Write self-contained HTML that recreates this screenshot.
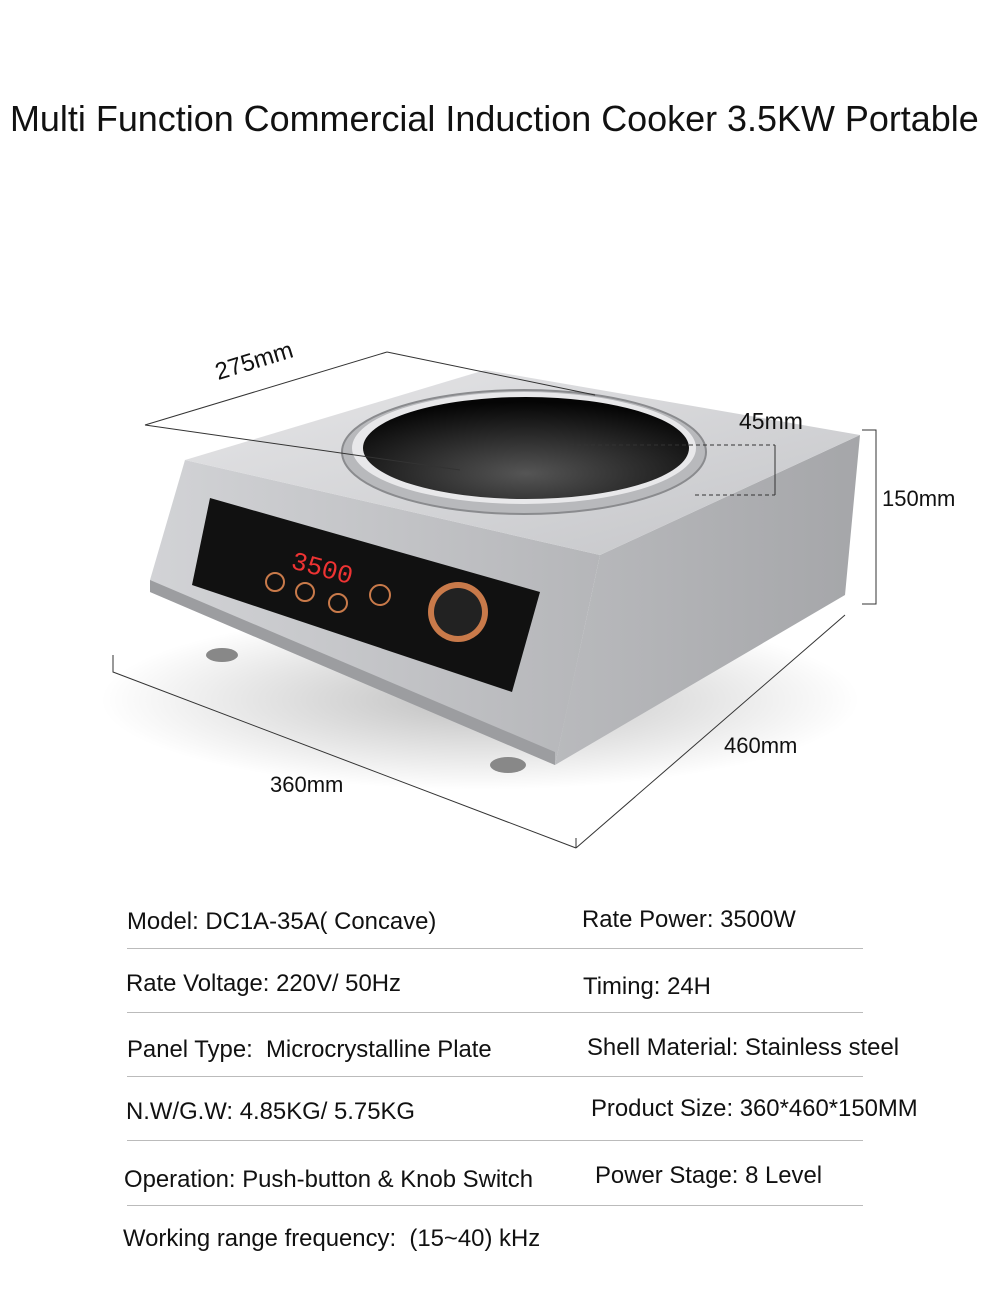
<!DOCTYPE html>
<html><head><meta charset="utf-8"><style>
html,body{margin:0;padding:0;background:#fff;}
body{width:992px;height:1293px;position:relative;overflow:hidden;font-family:"Liberation Sans",sans-serif;color:#111;}
.t{position:absolute;white-space:nowrap;font-size:23.9px;}
.ln{position:absolute;left:127px;width:736px;height:1px;background:#bbb;}
</style></head><body>
<div class="t" style="left:10px;top:98px;font-size:35.95px;">Multi Function Commercial Induction Cooker 3.5KW Portable</div>
<svg width="992" height="1293" style="position:absolute;left:0;top:0" xmlns="http://www.w3.org/2000/svg">
<defs>
<linearGradient id="top" x1="0" y1="0" x2="1" y2="1"><stop offset="0" stop-color="#e6e6e8"/><stop offset="1" stop-color="#c4c5c8"/></linearGradient>
<linearGradient id="front" x1="0" y1="0" x2="1" y2="0"><stop offset="0" stop-color="#d2d3d6"/><stop offset="1" stop-color="#b5b6b9"/></linearGradient>
<linearGradient id="side" x1="0" y1="0" x2="1" y2="0"><stop offset="0" stop-color="#b9babd"/><stop offset="1" stop-color="#a5a6a9"/></linearGradient>
<radialGradient id="sh" cx="0.5" cy="0.5" r="0.5"><stop offset="0" stop-color="#000" stop-opacity="0.25"/><stop offset="1" stop-color="#000" stop-opacity="0"/></radialGradient>
<radialGradient id="wok" cx="0.5" cy="0.75" r="0.7"><stop offset="0" stop-color="#555"/><stop offset="1" stop-color="#050505"/></radialGradient>
</defs>
<ellipse cx="480" cy="700" rx="380" ry="90" fill="url(#sh)"/>
<ellipse cx="222" cy="655" rx="16" ry="7" fill="#888"/>
<ellipse cx="508" cy="765" rx="18" ry="8" fill="#888"/>
<ellipse cx="800" cy="605" rx="14" ry="6" fill="#888"/>
<polygon points="600,555 860,435 845,595 555,765" fill="url(#side)"/>
<polygon points="185,460 600,555 555,765 150,592 150,580" fill="url(#front)"/>
<polygon points="185,460 485,370 860,435 600,555" fill="url(#top)"/>
<polygon points="150,580 555,752 555,765 150,592" fill="#9c9da0"/>
<polygon points="210,498 540,592 512,692 192,585" fill="#111"/>
<text x="290" y="568" fill="#e33" font-size="26" font-family="Liberation Mono" transform="rotate(15 290 568)">3500</text>
<circle cx="458" cy="612" r="30" fill="#c97a4a"/>
<circle cx="458" cy="612" r="24" fill="#222"/>
<circle cx="380" cy="595" r="10" fill="none" stroke="#c97a4a" stroke-width="2"/>
<circle cx="275" cy="582" r="9" fill="none" stroke="#c97a4a" stroke-width="2"/>
<circle cx="305" cy="592" r="9" fill="none" stroke="#c97a4a" stroke-width="2"/>
<circle cx="338" cy="603" r="9" fill="none" stroke="#c97a4a" stroke-width="2"/>
<ellipse cx="524" cy="452" rx="182" ry="62" fill="#b8b9bc" stroke="#8a8b8e" stroke-width="2"/>
<ellipse cx="524" cy="448" rx="172" ry="56" fill="#e8e8ea"/>
<ellipse cx="526" cy="448" rx="163" ry="51" fill="url(#wok)"/>
<g stroke="#333" stroke-width="1" fill="none">
<line x1="145" y1="425" x2="387" y2="352"/>
<line x1="387" y1="352" x2="595" y2="395"/>
<line x1="145" y1="425" x2="460" y2="470"/>
<polyline points="113,655 113,672 576,848"/>
<line x1="576" y1="848" x2="576" y2="838"/>
<line x1="576" y1="848" x2="845" y2="615"/>
<polyline points="862,430 876,430 876,604 862,604"/>
<line x1="570" y1="445" x2="775" y2="445" stroke-dasharray="4,3"/>
<line x1="695" y1="495" x2="775" y2="495" stroke-dasharray="4,3"/>
<line x1="775" y1="445" x2="775" y2="495"/>
</g>
</svg>
<div class="t" style="left:212px;top:360px;font-size:24px;transform:rotate(-17deg);transform-origin:left top;">275mm</div>
<div class="t" style="left:739px;top:408px;font-size:23px;">45mm</div>
<div class="t" style="left:882px;top:486px;font-size:22px;">150mm</div>
<div class="t" style="left:724px;top:733px;font-size:22px;">460mm</div>
<div class="t" style="left:270px;top:772px;font-size:22px;">360mm</div>

<div class="t" style="left:127px;top:908px;">Model: DC1A-35A( Concave)</div>
<div class="t" style="left:582px;top:906px;">Rate Power: 3500W</div>
<div class="ln" style="top:948px"></div>
<div class="t" style="left:126px;top:970px;">Rate Voltage: 220V/ 50Hz</div>
<div class="t" style="left:583px;top:973px;">Timing: 24H</div>
<div class="ln" style="top:1012px"></div>
<div class="t" style="left:127px;top:1036px;">Panel Type:&nbsp; Microcrystalline Plate</div>
<div class="t" style="left:587px;top:1034px;">Shell Material: Stainless steel</div>
<div class="ln" style="top:1076px"></div>
<div class="t" style="left:126px;top:1098px;">N.W/G.W: 4.85KG/ 5.75KG</div>
<div class="t" style="left:591px;top:1095px;">Product Size: 360*460*150MM</div>
<div class="ln" style="top:1140px"></div>
<div class="t" style="left:124px;top:1166px;">Operation: Push-button &amp; Knob Switch</div>
<div class="t" style="left:595px;top:1162px;">Power Stage: 8 Level</div>
<div class="ln" style="top:1205px"></div>
<div class="t" style="left:123px;top:1225px;">Working range frequency:&nbsp; (15~40) kHz</div>
</body></html>
